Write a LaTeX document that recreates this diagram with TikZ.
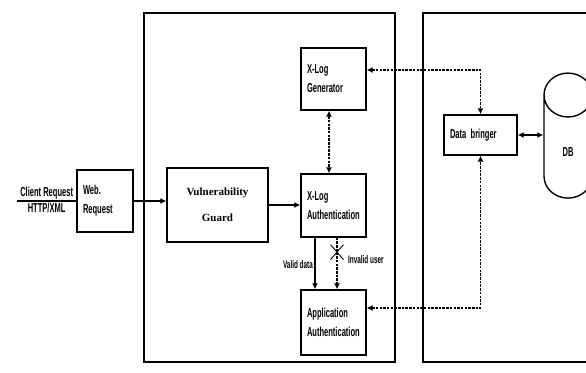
\documentclass[tikz,border=0pt]{standalone}
\usepackage{fontspec}
\setmainfont{Liberation Sans}[FakeStretch=0.58]
\newfontfamily\guardfont{Liberation Serif}
\usetikzlibrary{arrows.meta,shapes.geometric,shapes.misc}

\begin{document}
\begin{tikzpicture}[x=1pt, y=-1pt, >={Latex[length=6pt,width=6pt]},
  frame/.style={draw, line width=1.4pt, inner sep=0pt},
  box/.style={draw, line width=1.4pt, minimum width=65pt, minimum height=63pt, text width=53pt,
    inner sep=6pt, align=left, font=\bfseries\fontsize{13}{19}\selectfont},
  solidline/.style={line width=1.3pt},
  dline/.style={line width=1.3pt, dash pattern=on 2.5pt off 1.2pt},
  lbl/.style={inner sep=1.5pt, font=\bfseries\fontsize{11}{12}\selectfont}]
  \useasboundingbox (0,0) rectangle (586,372);
  \clip (0,0) rectangle (586,372);
  % zones
  \node[frame, minimum width=251pt, minimum height=349pt] (guardzone) at (269.5,187.5) {};
  \node[frame, minimum width=187pt, minimum height=349pt] (datazone) at (516.5,187.5) {};
  % blocks
  \node[box, minimum width=56pt, text width=44pt, minimum height=62pt] (web) at (105,201) {Web.\\Request};
  \node[draw, line width=1.4pt, minimum width=101pt, minimum height=74pt, align=center,
    font=\guardfont\bfseries\fontsize{11}{26}\selectfont] (vg) at (217.5,205) {Vulnerability\\Guard};
  \node[box, minimum height=62pt] (gen) at (333.5,79) {X-Log\\Generator};
  \node[box] (auth) at (333.5,205.5) {X-Log\\Authentication};
  \node[box, minimum height=65pt] (app) at (333.5,322.5) {Application\\Authentication};
  \node[box, minimum width=73pt, text width=61pt, minimum height=40pt] (bringer) at (480.5,135) {Data bringer};
  \node[draw, line width=1.4pt, cylinder, shape border rotate=90, aspect=2.5, minimum width=48pt,
    minimum height=125pt, font=\bfseries\fontsize{13}{15}\selectfont] (db) at (568,152.5) {DB};
  % client side
  \coordinate (client) at (17,201);
  \draw[solidline] (client) -- (client -| web.west)
    node[lbl, midway, above, font=\bfseries\fontsize{13}{15}\selectfont] (req) {Client Request}
    node[lbl, midway, below, font=\bfseries\fontsize{13}{15}\selectfont] (http) {HTTP/XML};
  % connectors
  \draw[solidline, ->] (web.east) -- (web.east -| vg.west);
  \draw[solidline, ->] (vg.east) -- (vg.east -| auth.west);
  \draw[dline, <->] ([xshift=-4.5pt]gen.south) -- ([xshift=-4.5pt]auth.north);
  \draw[solidline, ->] ([xshift=-18.5pt]auth.south) -- ([xshift=-18.5pt]app.north)
    node[lbl, pos=0.53, left] (valid) {Valid data};
  \draw[dline, ->] ([xshift=3.5pt]auth.south) -- ([xshift=3.5pt]app.north)
    node[pos=0.28, cross out, draw, solid, line width=0.9pt, minimum width=12pt, minimum height=14pt] (cut) {};
  \node[lbl, anchor=west] (invalid) at ([xshift=3pt, yshift=-7pt]cut.east) {Invalid user};
  \draw[dline, <->] ([yshift=9pt]gen.east) -| (bringer.north);
  \draw[dline, <->] ([yshift=14.5pt]app.east) -| (bringer.south);
  \draw[solidline, <->] (bringer.east) -- (db.west |- bringer.east);
\end{tikzpicture}
\end{document}
